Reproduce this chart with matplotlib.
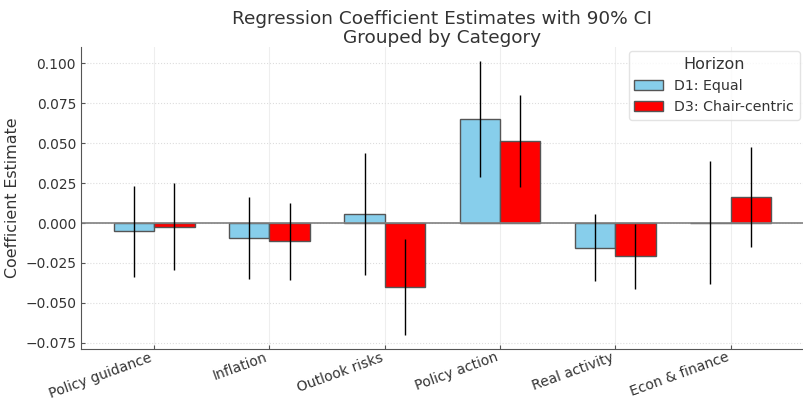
import matplotlib
matplotlib.use('Agg')
import matplotlib.pyplot as plt
import numpy as np

categories = ['Policy guidance', 'Inflation', 'Outlook risks', 'Policy action',
              'Real activity', 'Econ & finance']
series = ['D1: Equal', 'D3: Chair-centric']

# coefficient estimates and 90% CI half widths
d1_coef = [-0.0051, -0.0093, 0.0057, 0.0654, -0.0156, 0.0003]
d1_err = [0.0286, 0.0258, 0.0381, 0.0363, 0.0210, 0.0387]
d3_coef = [-0.0022, -0.0114, -0.0402, 0.0516, -0.0207, 0.0163]
d3_err = [0.0270, 0.0240, 0.0301, 0.0288, 0.0203, 0.0311]

colors = ['skyblue', 'red']
text_col = '#333333'

plt.rcParams['font.family'] = 'DejaVu Sans'
plt.rcParams['text.color'] = text_col
plt.rcParams['axes.labelcolor'] = text_col
plt.rcParams['xtick.color'] = text_col
plt.rcParams['ytick.color'] = text_col

fig = plt.figure(figsize=(8.04, 3.99), dpi=100)
ax = fig.add_axes([0.1007, 0.1253, 0.899, 0.757])

x = np.arange(len(categories))
width = 0.35
for i, (coef, err) in enumerate([(d1_coef, d1_err), (d3_coef, d3_err)]):
    ax.bar(x + (i - 0.5) * width, coef, width, yerr=err, color=colors[i],
           edgecolor='#555555', linewidth=1.0, label=series[i],
           error_kw={'ecolor': 'black', 'elinewidth': 1.0, 'capsize': 0})

ax.axhline(0, color='gray', linewidth=1.2, zorder=1.5)
ax.set_xticks(x)
ax.set_xticklabels(categories, rotation=20, ha='right', fontsize=10)
ax.tick_params(axis='y', labelsize=10)
ax.tick_params(direction='in', length=3, color='#555555')
ax.tick_params(axis='x', pad=1)
ax.set_ylabel('Coefficient Estimate', fontsize=11.4)
ax.set_title('Regression Coefficient Estimates with 90% CI\nGrouped by Category',
             fontsize=13.3, color=text_col, linespacing=1.05, pad=3)
ax.yaxis.grid(True, linestyle=':', color='#dddddd', linewidth=0.8)
ax.xaxis.grid(True, linestyle='-', color='#eeeeee', linewidth=0.8)
ax.set_axisbelow(True)
for s in ['top', 'right']:
    ax.spines[s].set_visible(False)
for s in ['left', 'bottom']:
    ax.spines[s].set_color('#555555')
leg = ax.legend(title='Horizon', loc='upper right', fontsize=10.2, title_fontsize=11.5,
                frameon=True, edgecolor='#dddddd', borderaxespad=0.3)

fig.savefig('out.png', dpi=100)
